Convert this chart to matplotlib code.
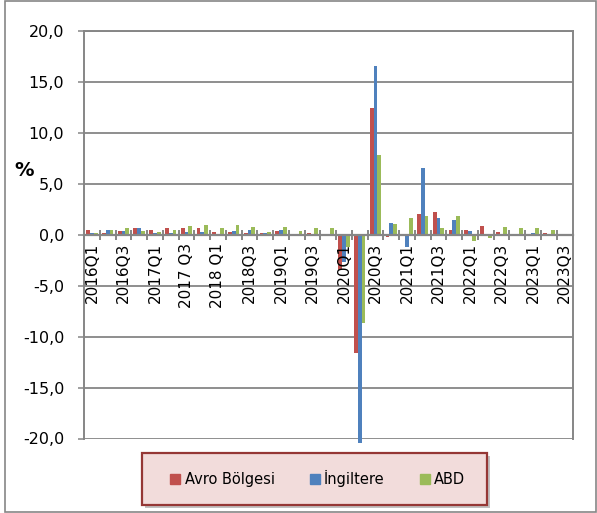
import matplotlib
matplotlib.use('Agg')
import matplotlib.pyplot as plt
import numpy as np
from matplotlib.patches import Rectangle

# ---- data ----
quarters = ['2016Q1', '2016Q2', '2016Q3', '2016Q4', '2017Q1', '2017Q2', '2017 Q3', '2017Q4',
            '2018 Q1', '2018Q2', '2018Q3', '2018Q4', '2019Q1', '2019Q2', '2019Q3', '2019Q4',
            '2020Q1', '2020Q2', '2020Q3', '2020Q4', '2021Q1', '2021Q2', '2021Q3', '2021Q4',
            '2022Q1', '2022Q2', '2022Q3', '2022Q4', '2023Q1', '2023Q2', '2023Q3']
label_every = 2
series_names = ['Avro Bölgesi', 'İngiltere', 'ABD']
avro = [0.5, 0.2, 0.4, 0.65, 0.5, 0.65, 0.65, 0.65, 0.25, 0.3, 0.15, 0.2, 0.4, 0.1, 0.2, 0.1,
        -3.5, -11.6, 12.4, -0.2, -0.1, 2.0, 2.2, 0.45, 0.5, 0.85, 0.3, 0.0, 0.05, 0.13, np.nan]
ingiltere = [0.15, 0.5, 0.4, 0.6, 0.2, 0.2, 0.3, 0.3, 0.05, 0.4, 0.5, 0.2, 0.5, 0.0, 0.0, 0.0,
             -2.7, -20.4, 16.5, 1.15, -1.2, 6.5, 1.6, 1.45, 0.4, 0.1, 0.05, 0.05, 0.2, 0.1, np.nan]
abd = [0.15, 0.5, 0.65, 0.4, 0.3, 0.45, 0.8, 0.9, 0.65, 0.9, 0.7, 0.3, 0.7, 0.4, 0.65, 0.65,
       -1.2, -8.7, 7.8, 1.0, 1.6, 1.8, 0.65, 1.8, -0.6, -0.3, 0.7, 0.65, 0.6, 0.5, np.nan]
y_ticks = [-20, -15, -10, -5, 0, 5, 10, 15, 20]

colors = ['#C0504D', '#4F81BD', '#9BBB59']
gray = '#868686'

plt.rcParams['font.family'] = ['DejaVu Sans']

W, H = 597, 513
fig = plt.figure(figsize=(W / 100, H / 100), dpi=100)
left, right, top, bottom = 84, 572.5, 30.7, 438.5
ax = fig.add_axes([left / W, 1 - bottom / H, (right - left) / W, (bottom - top) / H])

x = np.arange(len(quarters))
w = 0.24
for k, (vals, c) in enumerate(zip([avro, ingiltere, abd], colors)):
    ax.bar(x + (k - 1) * w, vals, width=w, color=c, zorder=1, clip_on=False, linewidth=0)

ax.set_xlim(-0.5, len(quarters) - 0.5)
ax.set_ylim(-20, 20)

# gridlines behind bars
for yv in y_ticks:
    ax.axhline(yv, color=gray, lw=1.3, zorder=0.5)

ax.set_yticks(y_ticks)
ax.set_yticklabels([f"{v:.1f}".replace('.', ',') for v in y_ticks])
ax.tick_params(axis='y', direction='out', length=4.3, width=1.1, color=gray, pad=10,
               labelsize=11.5)

for s in ['left', 'right', 'top']:
    ax.spines[s].set_color(gray)
    ax.spines[s].set_linewidth(1.4)
ax.spines['bottom'].set_position(('data', 0))
ax.spines['bottom'].set_color(gray)
ax.spines['bottom'].set_linewidth(1.6)

ax.set_xticks(np.arange(-0.5, len(quarters), 1))
ax.set_xticklabels([])
ax.tick_params(axis='x', which='major', direction='inout', length=7.5, width=1.4, color=gray)
minor_pos = x[::label_every]
ax.set_xticks(minor_pos, minor=True)
ax.set_xticklabels([quarters[i] for i in minor_pos], minor=True, rotation=90, fontsize=11)
ax.tick_params(axis='x', which='minor', length=0, pad=6)

fig.text(24.5 / W, 1 - 170 / H, '%', fontsize=14, fontweight='bold', ha='center', va='center')

# legend box
lx0, lx1, ly0, ly1 = 141.7, 486.7, 452.7, 505
shadow = Rectangle(((lx0 + 3) / W, 1 - (ly1 + 3) / H), (lx1 - lx0) / W, (ly1 - ly0) / H,
                   transform=fig.transFigure, fc='#999999', ec='none', alpha=0.6, zorder=1)
box = Rectangle((lx0 / W, 1 - ly1 / H), (lx1 - lx0) / W, (ly1 - ly0) / H,
                transform=fig.transFigure, fc='#F2DCDB', ec='#953735', lw=1.6, zorder=2)
fig.add_artist(shadow)
fig.add_artist(box)
handles = [Rectangle((0, 0), 1, 1, color=c) for c in colors]
leg = fig.legend(handles, series_names, loc='center', bbox_to_anchor=(317.7 / W, 1 - 478.9 / H),
                 ncol=3, frameon=False, handlelength=0.7, handleheight=0.7, handletextpad=0.3,
                 columnspacing=2.4, fontsize=10.5)
leg.set_zorder(3)

# outer frame
frame = Rectangle((5 / W, 1 - 511.5 / H), (596 - 5) / W, (511.5 - 1) / H,
                  transform=fig.transFigure, fill=False, ec=gray, lw=1.2, zorder=0)
fig.add_artist(frame)

fig.savefig('out.png', dpi=100)
